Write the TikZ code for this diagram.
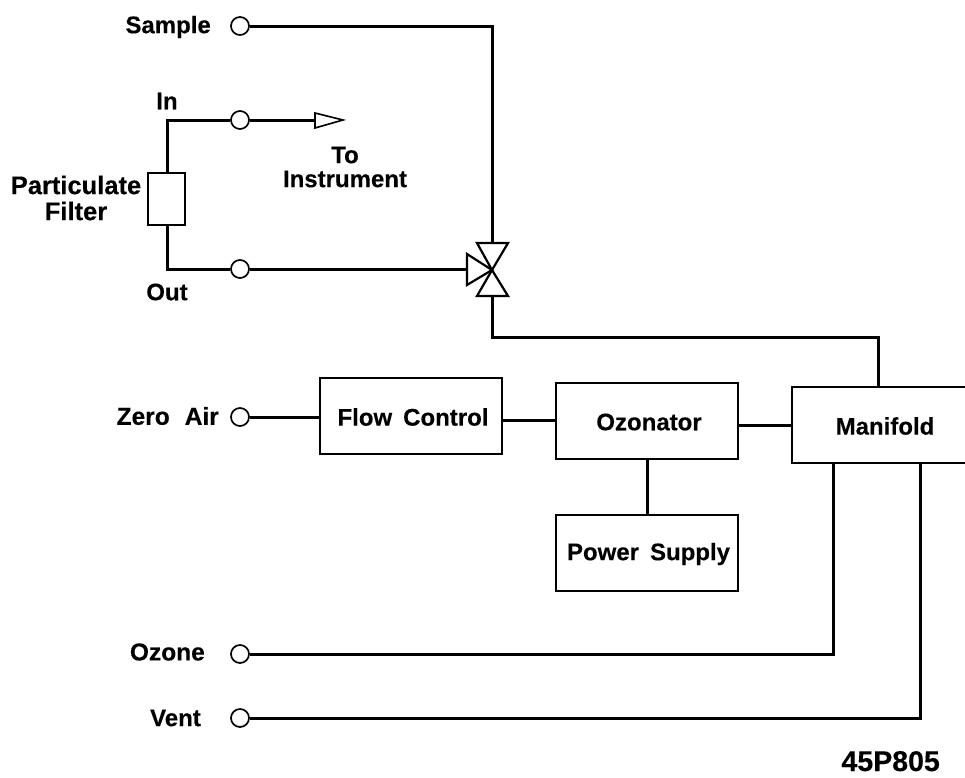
\documentclass[tikz,border=0pt]{standalone}
\usepackage{fontspec}
\setmainfont{Liberation Sans}[BoldFont={Liberation Sans Bold},BoldFeatures={FakeBold=0.25}]
\begin{document}
\begin{tikzpicture}[x=1pt,y=-1pt,
  port/.style={circle,draw=black,line width=1.7pt,fill=white,minimum size=18pt,inner sep=0pt},
  boxa/.style={draw=black,line width=1.5pt,fill=white,inner sep=0pt},
  lbl/.style={inner sep=0pt,align=center,font=\fontsize{24}{26}\selectfont\bfseries},
  pipe/.style={line width=3pt,line join=miter},
  tri/.style={draw=black,line width=2.2pt,fill=white,line join=miter}]
\useasboundingbox (0,0) rectangle (965,777);
% coordinates
\coordinate (V) at (492,270);
\coordinate (Vt) at (492,243);
\coordinate (Vb) at (492,296);
\coordinate (Vl) at (467,270);
\coordinate (Ftip) at (343,120);
\coordinate (Fbase) at (315,120);
\coordinate (inC) at (167,120);
\coordinate (outC) at (167,269);
% ports
\node[port] (ps) at (240,26) {};
\node[port] (pi) at (240,120) {};
\node[port] (po) at (240,269) {};
\node[port] (pz) at (240,417) {};
\node[port] (pn) at (240,654) {};
\node[port] (pv) at (240,718) {};
% boxes
\node[draw=black,line width=1.2pt,fill=white,minimum width=37pt,minimum height=52pt,inner sep=0pt] (filt) at (166.5,199) {};
\node[boxa,minimum width=182pt,minimum height=76pt] (flow) at (411,416) {};
\node[boxa,minimum width=182pt,minimum height=76pt] (ozo) at (647,421) {};
\node[boxa,minimum width=182pt,minimum height=76pt] (pow) at (647,553) {};
\node[boxa,minimum width=190pt,minimum height=76pt] (man) at (887,425) {};
% connectors
\draw[pipe] (ps.east) -| (Vt);
\draw[pipe] (pi.west) -- (inC) -- (filt.north -| inC);
\draw[pipe] (po.west) -- (outC) -- (filt.south -| outC);
\draw[pipe] (pi.east) -- (Fbase);
\draw[pipe] (po.east) -- (po.east -| Vl);
\draw[pipe] (Vb) -- (492,337) -- (878,337) -- (878,387);
\draw[pipe] (pz.east) -- (pz.east -| flow.west);
\draw[pipe] (flow.east |- 0,420) -- (ozo.west |- 0,420);
\draw[pipe] (ozo.east |- 0,425) -- (man.west |- 0,425);
\draw[pipe] (ozo.south) -- (pow.north);
\draw[pipe] (pn.east) -- (833,654) -- (833,463);
\draw[pipe] (pv.east) -- (920,718) -- (920,463);
% valve and arrow
\draw[tri] (V) -- (477,243) -- (508,243) -- cycle;
\draw[tri] (V) -- (477,296) -- (508,296) -- cycle;
\draw[tri] (V) -- (467,254) -- (467,285) -- cycle;
\draw[tri,line width=1.6pt] (Ftip) -- (315,113) -- (315,128) -- cycle;
% labels
\node[lbl,anchor=east] (ls) at (211,27) {Sample};
\node[lbl] (li) at (167,101) {In};
\node[lbl] (lt) at (345,167) {To\\[-2pt]Instrument};
\node[lbl,font=\fontsize{25.5}{28}\selectfont\bfseries] (lf) at (76,198) {Particulate\\[-2pt]Filter};
\node[lbl] (lo) at (167,292) {Out};
\node[lbl,anchor=east,font=\fontsize{24.5}{26}\selectfont\bfseries] (lz) at (219,416) {Zero\hspace{15pt}Air};
\node[lbl,anchor=east,font=\fontsize{24.5}{26}\selectfont\bfseries] (ln) at (205,652) {Ozone};
\node[lbl,anchor=east] (lv) at (201,718) {Vent};
\node[lbl] (lflow) at (413,417) {Flow\hspace{11pt}Control};
\node[lbl] (lozo) at (649,422) {Ozonator};
\node[lbl] (lpow) at (648.5,554) {Power\hspace{11pt}Supply};
\node[lbl] (lman) at (885,426) {Manifold};
\node[lbl,anchor=base east,font=\fontsize{28.5}{30}\selectfont\bfseries] (tag) at (940,771) {45P805};
\end{tikzpicture}
\end{document}
